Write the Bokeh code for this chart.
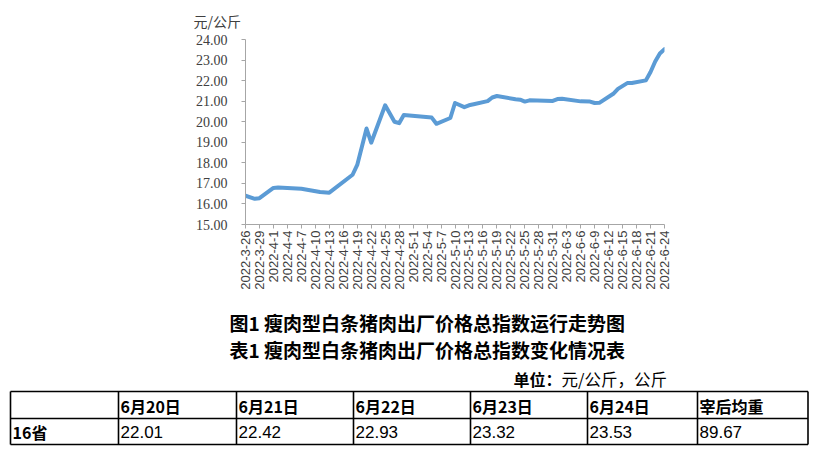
import math
import datetime as dt
from bokeh.plotting import figure
from bokeh.models import Range1d, FixedTicker, PrintfTickFormatter
from bokeh.embed import file_html
from bokeh.resources import INLINE
from bokeh.core.properties import value

# ---------------- data ----------------
dates = ["2022-3-26", "2022-3-28", "2022-3-29", "2022-4-1", "2022-4-2", "2022-4-7",
         "2022-4-11", "2022-4-13", "2022-4-18", "2022-4-19", "2022-4-21", "2022-4-22",
         "2022-4-25", "2022-4-27", "2022-4-28", "2022-4-29", "2022-5-5", "2022-5-6",
         "2022-5-9", "2022-5-10", "2022-5-12", "2022-5-13", "2022-5-14", "2022-5-17",
         "2022-5-18", "2022-5-19", "2022-5-23", "2022-5-24", "2022-5-25", "2022-5-26",
         "2022-5-31", "2022-6-1", "2022-6-2", "2022-6-6", "2022-6-8", "2022-6-9",
         "2022-6-10", "2022-6-13", "2022-6-14", "2022-6-16", "2022-6-17", "2022-6-20",
         "2022-6-21", "2022-6-22", "2022-6-23", "2022-6-24"]
prices = [16.40, 16.25, 16.28, 16.78, 16.80, 16.74,
          16.58, 16.55, 17.42, 17.90, 19.67, 18.98,
          20.80, 20.00, 19.93, 20.33, 20.20, 19.90,
          20.18, 20.91, 20.71, 20.80, 20.85, 21.00,
          21.18, 21.25, 21.09, 21.07, 20.98, 21.04,
          21.01, 21.10, 21.12, 20.99, 20.98, 20.91,
          20.92, 21.36, 21.60, 21.88, 21.88, 22.01,
          22.42, 22.93, 23.32, 23.53]

tick_labels = ["2022-3-26", "2022-3-29", "2022-4-1", "2022-4-4", "2022-4-7", "2022-4-10",
               "2022-4-13", "2022-4-16", "2022-4-19", "2022-4-22", "2022-4-25", "2022-4-28",
               "2022-5-1", "2022-5-4", "2022-5-7", "2022-5-10", "2022-5-13", "2022-5-16",
               "2022-5-19", "2022-5-22", "2022-5-25", "2022-5-28", "2022-5-31", "2022-6-3",
               "2022-6-6", "2022-6-9", "2022-6-12", "2022-6-15", "2022-6-18", "2022-6-21",
               "2022-6-24"]
y_ticks = [15, 16, 17, 18, 19, 20, 21, 22, 23, 24]
unit_label = "元/公斤"

title_fig = "图1 瘦肉型白条猪肉出厂价格总指数运行走势图"
title_table = "表1 瘦肉型白条猪肉出厂价格总指数变化情况表"
unit_note_bold = "单位："
unit_note = "元/公斤，公斤"
table_header = ["", "6月20日", "6月21日", "6月22日", "6月23日", "6月24日", "宰后均重"]
table_row = ["16省", "22.01", "22.42", "22.93", "23.32", "23.53", "89.67"]


def day(s):
    y, m, d = map(int, s.split("-"))
    y0, m0, d0 = map(int, tick_labels[0].split("-"))
    return (dt.date(y, m, d) - dt.date(y0, m0, d0)).days


xs = [day(d) for d in dates]
tick_pos = [day(t) for t in tick_labels]

# ---------------- line chart ----------------
p1 = figure(width=816, height=300,
            x_range=Range1d(tick_pos[0], tick_pos[-1]),
            y_range=Range1d(y_ticks[0], y_ticks[-1]),
            output_backend="svg", toolbar_location=None,
            min_border_left=245, min_border_right=152,
            min_border_top=39, min_border_bottom=76)
p1.outline_line_color = None
p1.grid.visible = False
p1.background_fill_color = "white"
p1.border_fill_color = "white"

p1.title.text = unit_label
p1.title.align = "left"
p1.title.offset = -52
p1.title.standoff = 17
p1.title.text_font = "Noto Sans CJK SC"
p1.title.text_font_style = "normal"
p1.title.text_font_size = "14px"
p1.title.text_color = "#404040"

xa = p1.xaxis[0]
xa.ticker = FixedTicker(ticks=tick_pos)
xa.major_label_overrides = {k: v for k, v in zip(tick_pos, tick_labels)}
xa.major_label_orientation = math.pi / 2
xa.axis_line_color = "#a6a6a6"
xa.major_tick_line_color = "#a6a6a6"
xa.minor_tick_line_color = None
xa.major_tick_out = 4
xa.major_tick_in = 0
xa.major_label_standoff = 2
xa.major_label_text_font = "Liberation Sans"
xa.major_label_text_font_size = "13px"
xa.major_label_text_color = "#404040"

ya = p1.yaxis[0]
ya.ticker = FixedTicker(ticks=y_ticks)
ya.formatter = PrintfTickFormatter(format="%.2f")
ya.axis_line_color = "#a6a6a6"
ya.major_tick_line_color = "#a6a6a6"
ya.minor_tick_line_color = None
ya.major_tick_out = 4
ya.major_tick_in = 0
ya.major_label_standoff = 14
ya.major_label_text_font = "Liberation Serif"
ya.major_label_text_font_size = "14px"
ya.major_label_text_color = "#404040"

p1.line(x=xs, y=prices, line_color="#5B9BD5", line_width=4,
        line_join="round", line_cap="round")

# ---------------- titles and table ----------------
p2 = figure(width=816, height=150, x_range=Range1d(0, 816), y_range=Range1d(450, 300),
            output_backend="svg", toolbar_location=None,
            x_axis_location=None, y_axis_location=None, min_border=0)
p2.outline_line_color = None
p2.grid.visible = False

cjk = value("Noto Sans CJK SC")
p2.text(x=[229, 229], y=[322, 349], text=[title_fig, title_table],
        text_font=cjk, text_font_style="bold", text_font_size=value("19px"),
        text_baseline="middle", text_align="left", text_color="black")
p2.text(x=[513], y=[378], text=[unit_note_bold], text_font=cjk, text_font_style="bold",
        text_font_size=value("16px"), text_baseline="middle", text_color="black")
p2.text(x=[561], y=[378], text=[unit_note], text_font=cjk,
        text_font_size=value("16.5px"), text_baseline="middle", text_color="black")

col_edges = [10, 118, 236, 353, 470, 587, 697, 807.5]
row_edges = [391, 418, 444]
p2.segment(x0=[col_edges[0]] * len(row_edges), x1=[col_edges[-1]] * len(row_edges),
           y0=row_edges, y1=row_edges, line_color="black", line_width=1.6)
p2.segment(x0=col_edges, x1=col_edges, y0=[row_edges[0]] * len(col_edges),
           y1=[row_edges[-1]] * len(col_edges), line_color="black", line_width=1.6)

hx = [e + 2 for e in col_edges[:-1]]
p2.text(x=hx, y=[405.5] * len(hx), text=table_header, text_font=cjk,
        text_font_style="bold", text_font_size=value("16px"), text_baseline="middle",
        text_color="black")
p2.text(x=[hx[0]], y=[431.5], text=[table_row[0]], text_font=cjk,
        text_font_style="bold", text_font_size=value("16px"), text_baseline="middle",
        text_color="black")
p2.text(x=hx[1:], y=[431.5] * (len(hx) - 1), text=table_row[1:],
        text_font=value("Liberation Sans Narrow, Liberation Sans"),
        text_font_size=value("17px"), text_baseline="middle", text_color="black")

open("out.html", "w").write(file_html([p1, p2], INLINE))
